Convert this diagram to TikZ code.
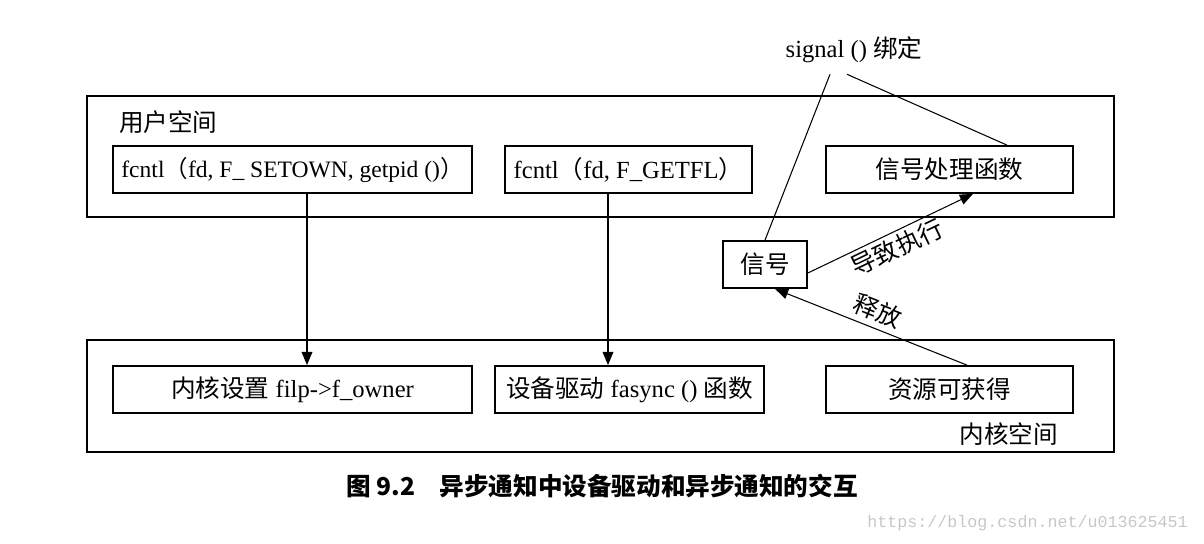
\documentclass[tikz,border=0pt]{standalone}
\usepackage{fontspec}
\setmainfont{Liberation Serif}
\newfontfamily\cjk{Noto Sans CJK SC}
\newfontfamily\wmfont{Liberation Mono}
\usetikzlibrary{arrows.meta}
\begin{document}
\begin{tikzpicture}[x=0.02cm,y=-0.02cm,font=\fontsize{14}{16}\selectfont,
  box/.style={draw,line width=1pt,minimum height=0.94cm,inner sep=0pt},
  space/.style={draw,line width=1.6pt},
  link/.style={line width=0.6pt},
  >={Triangle[length=7.5pt,width=6pt]}]
\useasboundingbox (0,0) rectangle (1204,544);
\draw[space] (87,96) rectangle (1114,217);
\draw[space] (87,340) rectangle (1114,452);
\node[anchor=west] (user) at (113,122) {\cjk 用户空间};
\node[anchor=east] (kernel) at (1064,434) {\cjk 内核空间};
\node[box,minimum width=7.18cm,font=\fontsize{13.4}{16}\selectfont] (setown) at (292.5,169.5) {fcntl{\cjk （}fd, F\_ SETOWN, getpid (){\cjk ）}};
\node[box,minimum width=4.94cm] (getfl) at (628.5,169.5) {fcntl{\cjk （}fd, F\_GETFL{\cjk ）}};
\node[box,minimum width=4.94cm] (handler) at (949.5,169.5) {\cjk 信号处理函数};
\node[box,minimum width=7.18cm] (owner) at (292.5,389.5) {{\cjk 内核设置} filp-{}>f\_owner};
\node[box,minimum width=5.38cm] (fasync) at (629.5,389.5) {{\cjk 设备驱动} fasync () {\cjk 函数}};
\node[box,minimum width=4.94cm] (res) at (949.5,389.5) {\cjk 资源可获得};
\node[box,minimum width=1.68cm] (sig) at (765,264.5) {\cjk 信号};
\node (bind) at (854,50) {signal () {\cjk 绑定}};
\coordinate (a1) at ([xshift=0.29cm]setown.south);
\coordinate (a2) at ([xshift=-0.41cm]getfl.south);
\draw[->,line width=1pt] (a1) -- (a1 |- owner.north);
\draw[->,line width=1pt] (a2) -- (a2 |- fasync.north);
\draw[link] ([xshift=-0.48cm,yshift=-0.1cm]bind.south) -- (sig.north);
\draw[link] ([xshift=-0.14cm,yshift=-0.1cm]bind.south) -- ([xshift=1.15cm]handler.north);
\draw[->,link] ([yshift=-0.17cm]sig.east) -- node[sloped,below,inner sep=2pt] {\cjk 导致执行} ([xshift=0.47cm]handler.south);
\draw[->,link] ([xshift=0.35cm]res.north) -- node[sloped,above] {\cjk 释放} ([xshift=0.2cm]sig.south);
\node[font=\cjk\bfseries\fontsize{14}{16}\selectfont] (caption) at (602,486) {图 9.2\quad 异步通知中设备驱动和异步通知的交互};
\node[anchor=east,text=black!22,font=\wmfont\fontsize{9.5}{11}\selectfont] (mark) at (1194,523) {https://blog.csdn.net/u013625451};
\end{tikzpicture}
\end{document}
